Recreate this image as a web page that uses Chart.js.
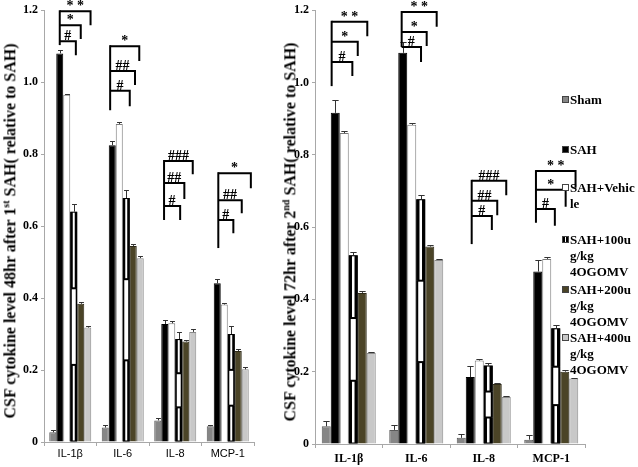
<!DOCTYPE html>
<html>
<head>
<meta charset="utf-8">
<script src="https://cdn.jsdelivr.net/npm/chart.js@4.4.0/dist/chart.umd.min.js"></script>
<style>
body { margin: 0; background: #fff; }
#wrap { position: relative; width: 638px; height: 467px; overflow: hidden; background: #fff; }
canvas { position: absolute; top: 0; }
.ytitle { position: absolute; white-space: nowrap; font: bold 16px 'Liberation Serif', serif; color: #000;
  transform: translate(-50%, -50%) rotate(-90deg); }
.ytitle sup { font-size: 10px; }
.lg { position: absolute; left: 570px; font: bold 13px 'Liberation Serif', serif; line-height: 16px; white-space: nowrap; color: #000; }
.sw { position: absolute; left: -8px; top: 4px; width: 7px; height: 7px; box-sizing: border-box; border: 1px solid #444; }
</style>
</head>
<body>
<div id="wrap">
  <canvas id="c48" width="262" height="467" style="left:0"></canvas>
  <canvas id="c72" width="376" height="467" style="left:262px"></canvas>
  <div class="ytitle" style="left:10px; top:231px">CSF cytokine level 48hr after 1<sup>st</sup> SAH( relative to SAH)</div>
  <div class="ytitle" style="left:290px; top:232px">CSF cytokine level 72hr after 2<sup>nd</sup> SAH( relative to SAH)</div>
  <div id="legend"></div>
</div>
<script>
// categorias e grupos
const categories = ['IL-1β', 'IL-6', 'IL-8', 'MCP-1'];
const groupNames = ['Sham', 'SAH', 'SAH+Vehicle', 'SAH+100ug/kg 4OGOMV', 'SAH+200ug/kg 4OGOMV', 'SAH+400ug/kg 4OGOMV'];
const legendLines = [['Sham'], ['SAH'], ['SAH+Vehic', 'le'], ['SAH+100u', 'g/kg', '4OGOMV'], ['SAH+200u', 'g/kg', '4OGOMV'], ['SAH+400u', 'g/kg', '4OGOMV']];

// 48hr after 1st SAH
const sham48 = [0.027, 0.040, 0.060, 0.044];
const sah48 = [1.080, 0.825, 0.328, 0.441];
const vehicle48 = [0.965, 0.884, 0.330, 0.382];
const og100_48 = [0.640, 0.678, 0.286, 0.300];
const og200_48 = [0.384, 0.545, 0.279, 0.253];
const og400_48 = [0.318, 0.511, 0.306, 0.202];
const err48 = [
  [0.006, 0.007, 0.006, 0.004],
  [0.010, 0.012, 0.011, 0.012],
  [0.003, 0.004, 0.005, 0.003],
  [0.022, 0.023, 0.021, 0.023],
  [0.006, 0.006, 0.005, 0.006],
  [0.005, 0.005, 0.008, 0.006]
];

// 72hr after 2nd SAH
const sham72 = [0.049, 0.039, 0.017, 0.012];
const sah72 = [0.916, 1.082, 0.185, 0.477];
const vehicle72 = [0.860, 0.883, 0.231, 0.512];
const og100_72 = [0.522, 0.677, 0.217, 0.320];
const og200_72 = [0.418, 0.546, 0.166, 0.200];
const og400_72 = [0.252, 0.509, 0.130, 0.181];
const err72 = [
  [0.014, 0.014, 0.011, 0.014],
  [0.035, 0.030, 0.031, 0.032],
  [0.006, 0.005, 0.005, 0.006],
  [0.010, 0.011, 0.006, 0.009],
  [0.004, 0.004, 0.004, 0.004],
  [0.002, 0.003, 0.002, 0.002]
];

// colchetes de significancia: [categoria, barra inicial, barra final, topo, fim da perna, texto]
const brackets48 = [
  [0, 1, 5.4, 1.197, 1.158, '* *'],
  [0, 1, 4.0, 1.158, 1.120, '*'],
  [0, 1, 3.3, 1.114, 1.075, '#'],
  [1, 0.7, 4.86, 1.100, 1.059, '*'],
  [1, 0.7, 4.25, 1.031, 0.992, '##'],
  [1, 0.7, 3.5, 0.976, 0.933, '#'],
  [2, 0.9, 5.0, 0.781, 0.744, '###'],
  [2, 0.9, 3.8, 0.720, 0.675, '##'],
  [2, 0.9, 3.2, 0.656, 0.617, '#'],
  [3, 1.15, 5.8, 0.747, 0.705, '*'],
  [3, 1.15, 4.5, 0.672, 0.636, '##'],
  [3, 1.15, 3.3, 0.617, 0.580, '#']
];
const legBottom48 = [1.103, 0.922, 0.617, 0.539];

const brackets72 = [
  [0, 0.6, 4.56, 1.168, 1.128, '* *'],
  [0, 0.6, 3.5, 1.113, 1.073, '*'],
  [0, 0.6, 2.9, 1.057, 1.018, '#'],
  [1, 0.88, 4.77, 1.195, 1.154, '* *'],
  [1, 0.88, 3.66, 1.140, 1.101, '*'],
  [1, 0.88, 3.03, 1.098, 1.057, '#'],
  [2, 1.16, 5.0, 0.728, 0.688, '###'],
  [2, 1.16, 4.0, 0.673, 0.633, '##'],
  [2, 1.16, 3.4, 0.631, 0.592, '#'],
  [3, 0.8, 5.2, 0.755, 0.709, '* *'],
  [3, 0.8, 4.1, 0.703, 0.656, '*'],
  [3, 0.8, 2.9, 0.650, 0.604, '#']
];
const legBottom72 = [0.990, 1.098, 0.553, 0.612];

// estilos
const fills = ['#868686', '#000000', '#ffffff', '#000000', '#4b4427', '#c8c8c8'];
const borders = ['#5a5a5a', '#000000', '#7a7a7a', '#000000', '#2e2a18', '#8a8a8a'];

function makeDatasets(series) {
  return series.map((v, i) => ({
    label: groupNames[i],
    data: v,
    backgroundColor: fills[i],
    borderColor: borders[i],
    borderWidth: 1,
    categoryPercentage: 0.8,
    barPercentage: 1
  }));
}

// posicao x de uma barra (indice fracionario) dentro de uma categoria
function barX(chart, cat, idx) {
  const a = chart.getDatasetMeta(0).data[cat];
  const b = chart.getDatasetMeta(1).data[cat];
  return a.x + idx * (b.x - a.x);
}

function extrasPlugin(errors, brackets, legBottom) {
  return {
    id: 'extras',
    afterDatasetsDraw(chart) {
      const ctx = chart.ctx;
      const ys = chart.scales.y;
      ctx.save();
      // padrao xadrez das barras de 100u
      chart.getDatasetMeta(3).data.forEach(bar => {
        const w = bar.width, x0 = bar.x - w / 2, h = bar.base - bar.y;
        for (let s = 0; s < 3; s++) {
          const y0 = bar.y + s * h / 3;
          ctx.fillStyle = '#000';
          ctx.fillRect(x0, y0, w, h / 3);
          ctx.fillStyle = '#fff';
          if (s === 1) ctx.fillRect(x0 + w * 0.22, y0 + 1, w * 0.56, h / 3 - 2);
          else ctx.fillRect(x0 + w * 0.36, y0 + 1, w * 0.28, h / 3 - 2);
        }
      });
      // barras de erro
      ctx.strokeStyle = '#333';
      ctx.lineWidth = 1;
      errors.forEach((errs, i) => {
        chart.getDatasetMeta(i).data.forEach((bar, j) => {
          const v = chart.data.datasets[i].data[j];
          const yt = Math.round(ys.getPixelForValue(v + errs[j])) + 0.5;
          const xc = Math.round(bar.x) + 0.5;
          const cw = bar.width * 0.35;
          ctx.beginPath();
          ctx.moveTo(xc, bar.y);
          ctx.lineTo(xc, yt);
          ctx.moveTo(xc - cw, yt);
          ctx.lineTo(xc + cw, yt);
          ctx.stroke();
        });
      });
      // colchetes
      ctx.strokeStyle = '#000';
      ctx.lineWidth = 2;
      ctx.fillStyle = '#000';
      ctx.font = 'bold 14px "Liberation Serif", serif';
      ctx.textAlign = 'center';
      ctx.textBaseline = 'alphabetic';
      const legTop = {};
      brackets.forEach(([cat, from, to, top, drop, label]) => {
        const xl = barX(chart, cat, from), xr = barX(chart, cat, to);
        const yt = ys.getPixelForValue(top), yb = ys.getPixelForValue(drop);
        ctx.beginPath();
        ctx.moveTo(xl, yt);
        ctx.lineTo(xr, yt);
        ctx.lineTo(xr, yb);
        ctx.stroke();
        ctx.fillText(label, (xl + xr) / 2, yt - 1);
        if (!(cat in legTop) || top > legTop[cat][1]) legTop[cat] = [from, top];
      });
      Object.keys(legTop).forEach(cat => {
        const [from, top] = legTop[cat];
        const xl = barX(chart, +cat, from);
        ctx.beginPath();
        ctx.moveTo(xl, ys.getPixelForValue(top) - 1);
        ctx.lineTo(xl, ys.getPixelForValue(legBottom[cat]));
        ctx.stroke();
      });
      ctx.restore();
    }
  };
}

function makeChart(id, series, errors, brackets, legBottom, o) {
  return new Chart(document.getElementById(id), {
    type: 'bar',
    data: { labels: categories, datasets: makeDatasets(series) },
    options: {
      responsive: false,
      animation: false,
      layout: { padding: { left: 0, right: o.padRight, top: o.padTop, bottom: 0 } },
      plugins: { legend: { display: false }, tooltip: { enabled: false } },
      scales: {
        x: {
          grid: { drawOnChartArea: false, tickLength: 4, color: '#a8a8a8', offset: true },
          border: { color: '#a8a8a8' },
          ticks: { font: o.xFont, color: '#000', padding: o.xPad },
          afterFit: s => { s.height = o.xHeight; }
        },
        y: {
          min: 0, max: 1.2,
          ticks: { stepSize: 0.2, font: { family: 'Liberation Serif', weight: 'bold', size: 12 }, color: '#000', padding: o.yPad },
          grid: { drawOnChartArea: false, tickLength: 3, color: '#a8a8a8' },
          border: { color: '#a8a8a8' },
          afterFit: s => { s.width = o.yWidth; }
        }
      }
    },
    plugins: [extrasPlugin(errors, brackets, legBottom)]
  });
}

makeChart('c48', [sham48, sah48, vehicle48, og100_48, og200_48, og400_48], err48, brackets48, legBottom48, {
  padRight: 8, padTop: 10, xHeight: 25, yWidth: 44, yPad: 3, xPad: 1,
  xFont: { family: 'Liberation Sans', size: 11 }
});
makeChart('c72', [sham72, sah72, vehicle72, og100_72, og200_72, og400_72], err72, brackets72, legBottom72, {
  padRight: 53, padTop: 9, xHeight: 23, yWidth: 53, yPad: 3, xPad: 4,
  xFont: { family: 'Liberation Serif', weight: 'bold', size: 12 }
});

// legenda
const legendTops = [100, 150, 188, 240, 290, 338];
const swatchBg = ['#868686', '#000', '#fff', 'repeating-linear-gradient(90deg,#000 0 2px,#fff 2px 3px)', '#4b4427', '#c8c8c8'];
const legend = document.getElementById('legend');
legendLines.forEach((lines, i) => {
  const d = document.createElement('div');
  d.className = 'lg';
  d.style.top = (legendTops[i] - 8) + 'px';
  d.innerHTML = '<span class="sw" style="background:' + swatchBg[i] + '"></span>' + lines.join('<br>');
  legend.appendChild(d);
});
</script>
</body>
</html>
